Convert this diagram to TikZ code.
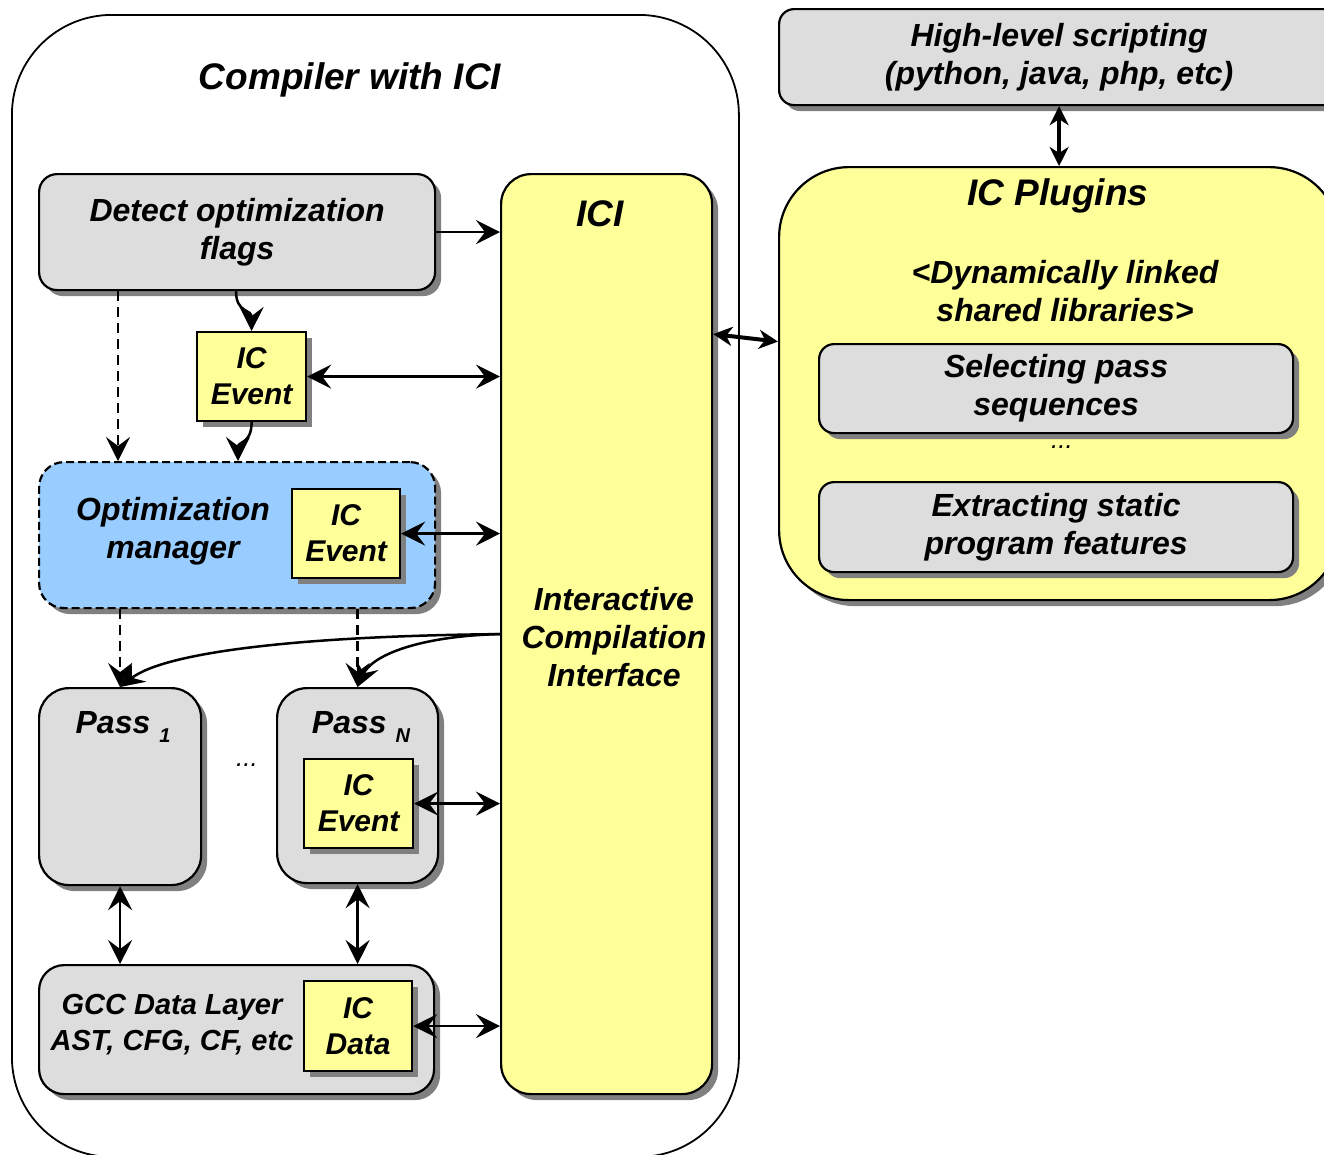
\documentclass[tikz,border=0pt]{standalone}
\usepackage{fontspec}
\setmainfont{Liberation Sans}
\usetikzlibrary{arrows.meta,shadows}
\definecolor{boxgray}{HTML}{DDDDDD}
\definecolor{icyellow}{HTML}{FFFF99}
\definecolor{optblue}{HTML}{99CCFF}
\definecolor{shadowgray}{HTML}{808080}
\newcommand\myfBig{\fontsize{37}{44}\selectfont\bfseries\itshape}
\newcommand\myfMain{\fontsize{32}{38}\selectfont\bfseries\itshape}
\newcommand\myfEv{\fontsize{30}{36}\selectfont\bfseries\itshape}
\newcommand\myfGcc{\fontsize{29}{36}\selectfont\bfseries\itshape}
\newcommand\myfDots{\fontsize{26}{26}\selectfont\itshape}
\tikzset{
  Tp/.tip={Stealth[length=24pt,width=24pt,inset=9pt]},
  Tq/.tip={Stealth[length=19pt,width=19pt,inset=6pt]},
  shad/.style={drop shadow={shadow xshift=6pt,shadow yshift=-6pt,opacity=1,fill=shadowgray}},
  gbox/.style={draw=black,line width=2.2pt,fill=boxgray,shad,inner sep=0pt,anchor=north west,align=center,font=\myfMain},
  ybox/.style={draw=black,line width=2.2pt,fill=icyellow,shad,inner sep=0pt,anchor=north west,align=center,font=\myfEv},
  obox/.style={draw=black,line width=2.2pt,fill=optblue,shad,inner sep=0pt,anchor=north west,dash pattern=on 8pt off 4pt},
  lbl/.style={align=center,inner sep=0pt,font=\myfMain},
  arr/.style={-Tp,line width=2.5pt},
  darr/.style={Tp-Tp,line width=2.5pt},
  thk/.style={Tq-Tq,line width=4pt},
  dsh/.style={dash pattern=on 10pt off 6pt}
}
\begin{document}
\begin{tikzpicture}[x=1pt,y=-1pt]
\useasboundingbox (0,0) rectangle (1324,1154);
\clip (0,0) rectangle (1324,1154);
% outer compiler box
\node[draw=black,line width=1.8pt,rounded corners=100pt,minimum width=727pt,minimum height=1142pt,anchor=north west,inner sep=0pt] (compiler) at (11,14) {};
\node[lbl,font=\myfBig] (comptitle) at (350,80) {Compiler with ICI};
% ICI
\node[ybox,rounded corners=30pt,minimum width=211pt,minimum height=920pt] (ici) at (500,173) {};
\node[lbl,font=\myfBig] (icilbl) at (600,214) {ICI};
\node[lbl] (icitext) at (614,637) {Interactive\\Compilation\\Interface};
% left column
\node[gbox,rounded corners=18pt,minimum width=396pt,minimum height=116pt] (detect) at (38,173) {Detect optimization\\flags};
\node[ybox,minimum width=109pt,minimum height=89pt] (ev1) at (196,331) {IC\\Event};
\node[obox,rounded corners=25pt,minimum width=396pt,minimum height=146pt] (opt) at (38,461) {};
\node[lbl] (optlbl) at (173,531) {Optimization\\manager};
\node[ybox,minimum width=108pt,minimum height=89pt] (ev2) at (291,488) {IC\\Event};
\node[gbox,rounded corners=30pt,minimum width=162pt,minimum height=197pt] (pass1) at (38,687) {};
\node[gbox,rounded corners=30pt,minimum width=161pt,minimum height=195pt] (passN) at (276,687) {};
\node[lbl,anchor=base] (p1lbl) at (123,733) {Pass~\raisebox{-9pt}{\fontsize{20}{20}\selectfont 1}};
\node[lbl,anchor=base] (pNlbl) at (361,733) {Pass~\raisebox{-9pt}{\fontsize{20}{20}\selectfont N}};
\node[lbl,font=\myfDots] (dots1) at (247,765) {...};
\node[ybox,minimum width=109pt,minimum height=89pt] (ev3) at (303,758) {IC\\Event};
\node[gbox,rounded corners=25pt,minimum width=395pt,minimum height=129pt] (gcc) at (38,964) {};
\node[lbl,font=\myfGcc] (gcclbl) at (172,1025) {GCC Data Layer\\AST, CFG, CF, etc};
\node[ybox,minimum width=108pt,minimum height=90pt] (icdata) at (303,980) {IC\\Data};
% right side
\node[gbox,rounded corners=15pt,minimum width=560pt,minimum height=96pt] (high) at (778,8) {High-level scripting\\(python, java, php, etc)};
\node[ybox,rounded corners=70pt,minimum width=560pt,minimum height=433pt] (plug) at (778,166) {};
\node[lbl,font=\myfBig] (pluglbl) at (1058,196) {IC Plugins};
\node[lbl] (dyn) at (1065,291) {<Dynamically linked\\shared libraries>};
\node[gbox,rounded corners=15pt,minimum width=474pt,minimum height=89pt] (sel) at (818,343) {Selecting pass\\sequences};
\node[lbl,font=\myfDots] (dots2) at (1062,447) {...};
\node[gbox,rounded corners=15pt,minimum width=474pt,minimum height=90pt] (ext) at (818,481) {Extracting static\\program features};
% connectors
\draw[arr] (detect.east) -- (detect.east -| ici.west);
\draw[darr] (ev1.east) -- (ev1.east -| ici.west);
\draw[darr] (ev2.east) -- (ev2.east -| ici.west);
\draw[darr] (ev3.east) -- (ev3.east -| ici.west);
\draw[darr] (icdata.east) -- (icdata.east -| ici.west);
\draw[darr] (pass1.south) -- (pass1.south |- gcc.north);
\draw[darr] (passN.south) -- (passN.south |- gcc.north);
\draw[arr] ([xshift=198pt]detect.south west) .. controls +(0,22) and +(0,-22) .. (ev1.north);
\draw[arr] (ev1.south) .. controls +(0,22) and +(0,-20) .. ([xshift=200pt]opt.north west);
\draw[arr,dsh] ([xshift=80pt]detect.south west) -- ([xshift=80pt]opt.north west);
\draw[arr,dsh] (opt.south -| pass1.north) -- (pass1.north);
\draw[arr,dsh] (opt.south -| passN.north) -- (passN.north);
\draw[arr] (ici.west) .. controls (300,636) and (165,652) .. (pass1.north);
\draw[arr] (ici.west) .. controls (420,636) and (372,655) .. (passN.north);
\draw[thk] ([yshift=300pt]ici.east) -- ([yshift=42pt]plug.west);
\draw[thk] (high.south) -- (plug.north);
\end{tikzpicture}
\end{document}
